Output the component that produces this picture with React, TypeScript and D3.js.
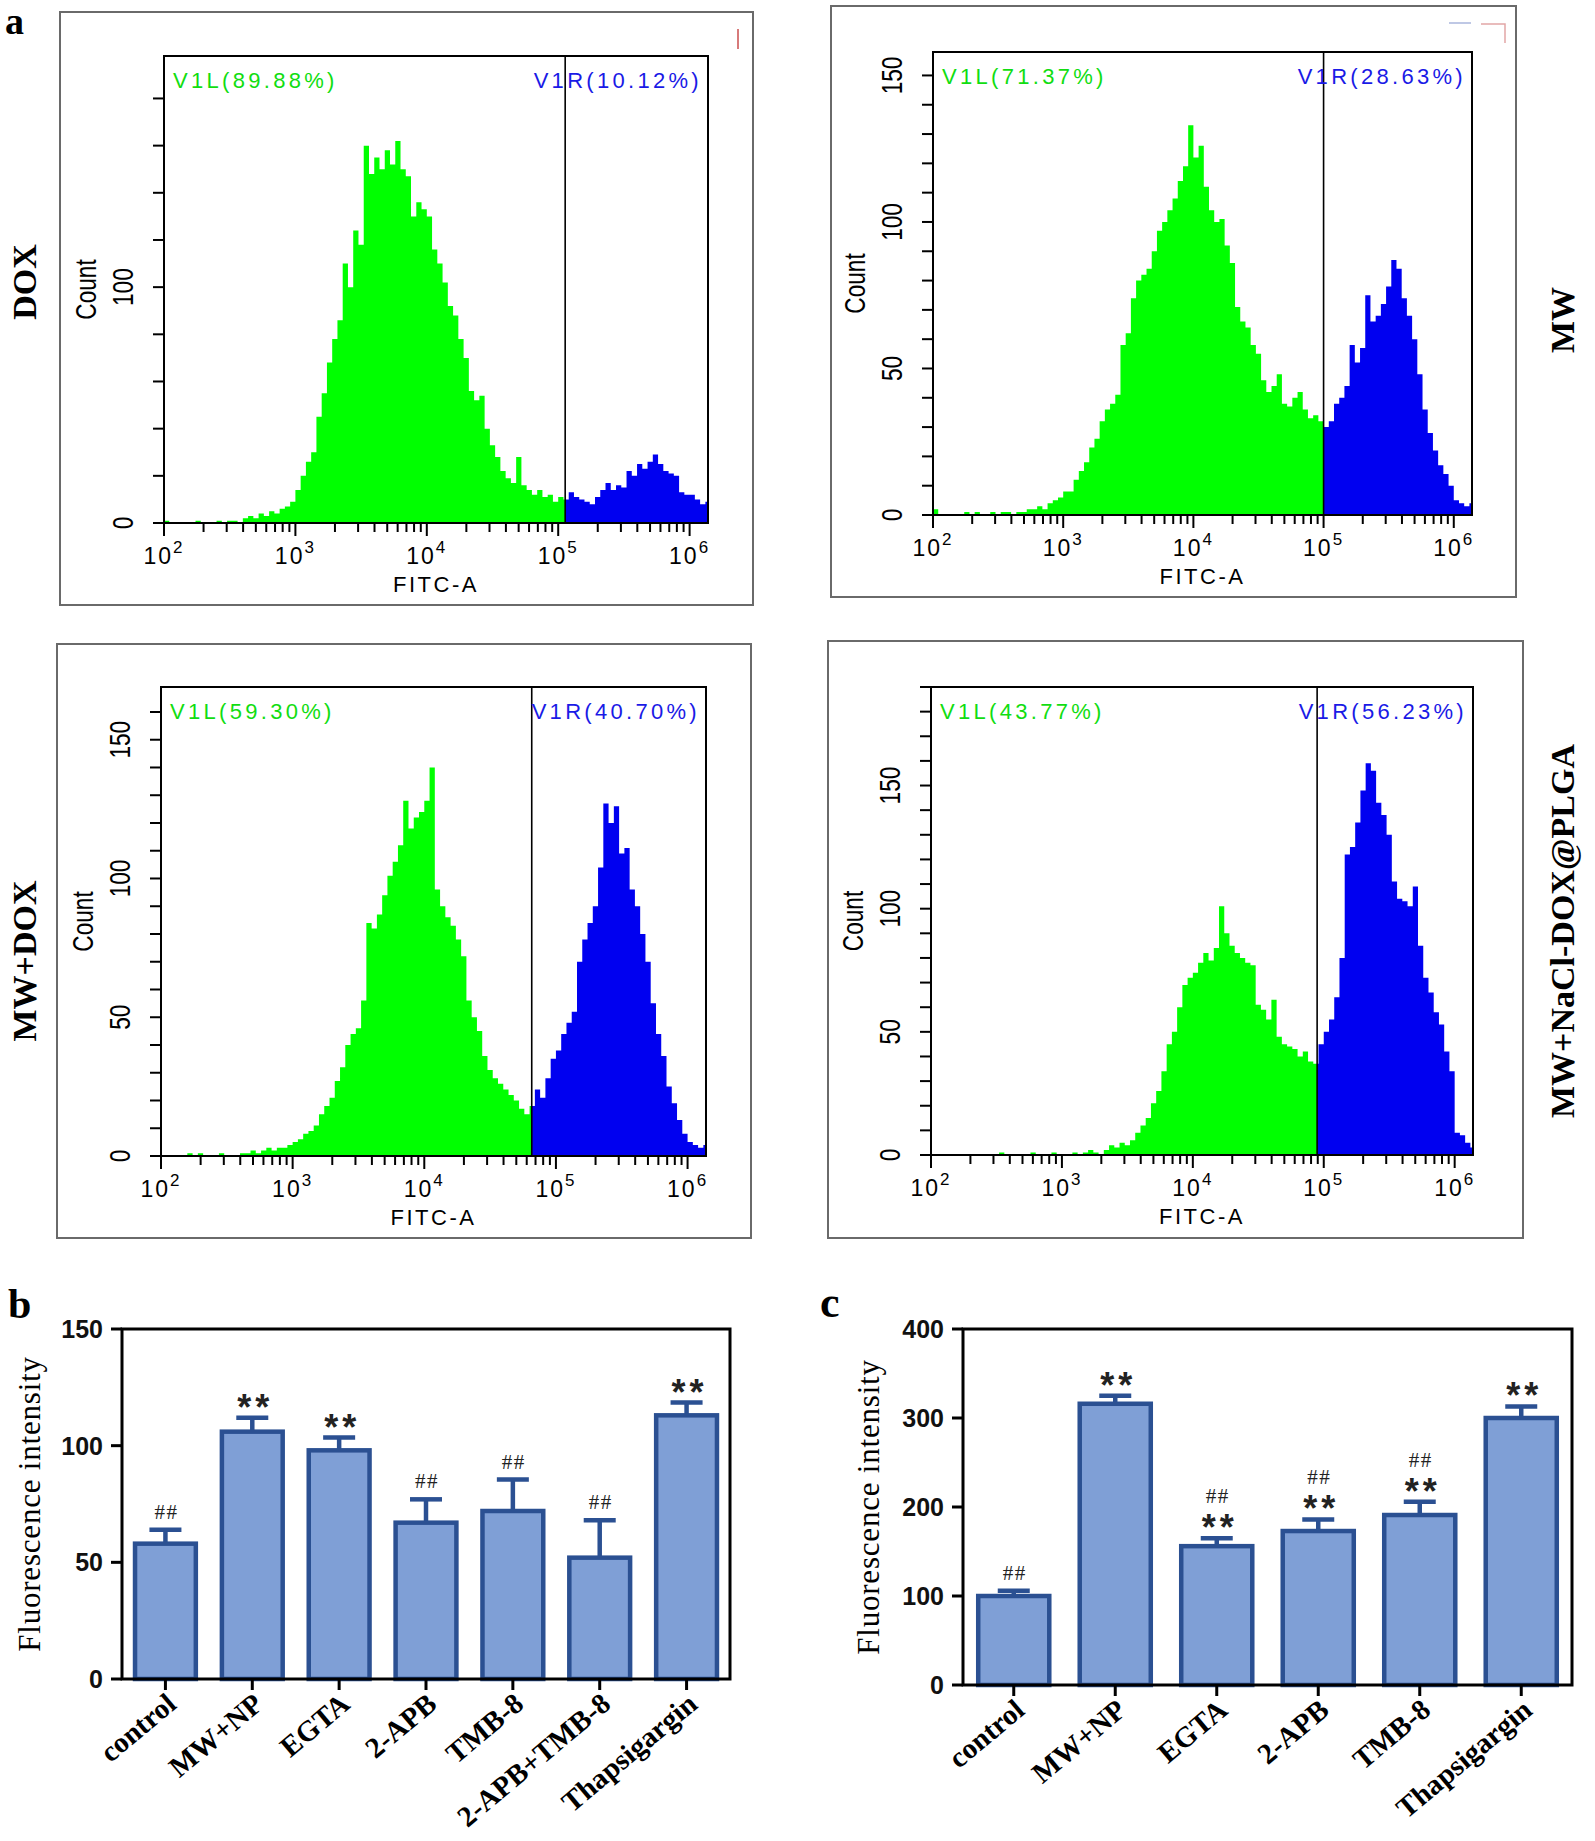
import React, { useEffect, useRef } from 'react';
import * as d3 from 'd3';

// FITC-A histograms: counts per bin, bins are 0.04 decade wide starting at 10^2
const binStart = 2;
const binStep = 0.04;

const doxCounts = [
  1, 0, 0, 0, 0, 0, 1, 0, 0, 0,
  1, 0, 1, 1, 0, 2, 3, 2, 4, 3,
  5, 4, 6, 7, 9, 14, 20, 26, 30, 45,
  55, 68, 78, 86, 110, 100, 124, 118, 160, 148,
  155, 150, 158, 152, 162, 150, 147, 130, 136, 133,
  130, 116, 110, 102, 92, 88, 78, 70, 56, 52,
  54, 40, 33, 28, 22, 19, 17, 28, 16, 14,
  12, 14, 11, 12, 9, 11, 10, 13, 11, 10,
  9, 8, 11, 14, 17, 14, 16, 15, 22, 20,
  25, 23, 26, 29, 25, 22, 21, 20, 13, 12,
  12, 10, 8, 9
];

const mwCounts = [
  2, 0, 0, 0, 0, 0, 1, 0, 1, 0,
  0, 1, 0, 1, 1, 0, 1, 1, 2, 2,
  3, 2, 4, 5, 6, 8, 8, 12, 15, 18,
  23, 26, 32, 36, 38, 41, 58, 62, 74, 80,
  82, 84, 90, 97, 100, 104, 108, 114, 119, 133,
  122, 126, 112, 104, 100, 101, 92, 86, 71, 66,
  64, 58, 55, 46, 42, 44, 48, 38, 37, 40,
  42, 36, 33, 34, 32, 30, 32, 38, 40, 44,
  58, 52, 57, 75, 66, 68, 72, 78, 87, 84,
  74, 68, 60, 48, 36, 28, 22, 17, 14, 10,
  5, 4, 3, 4
];

const mwDoxCounts = [
  0, 0, 0, 0, 0, 1, 0, 1, 0, 0,
  0, 1, 0, 0, 0, 1, 1, 2, 1, 2,
  3, 2, 3, 3, 4, 5, 6, 8, 9, 11,
  15, 18, 21, 27, 32, 40, 44, 46, 56, 84,
  82, 87, 94, 101, 106, 112, 128, 118, 122, 124,
  128, 140, 96, 90, 86, 83, 78, 72, 56, 50,
  45, 36, 31, 28, 26, 24, 22, 20, 17, 15,
  18, 24, 21, 28, 35, 38, 44, 48, 52, 70,
  78, 84, 90, 104, 127, 120, 126, 109, 111, 96,
  90, 80, 70, 55, 44, 36, 25, 19, 13, 8,
  5, 4, 3, 4
];

const naclCounts = [
  0, 0, 0, 0, 0, 0, 0, 0, 0, 0,
  0, 0, 0, 1, 0, 0, 0, 0, 0, 1,
  0, 0, 0, 1, 0, 0, 0, 1, 0, 1,
  2, 1, 0, 2, 4, 3, 5, 4, 6, 9,
  12, 15, 21, 26, 34, 45, 50, 60, 69, 72,
  74, 78, 82, 79, 84, 101, 90, 85, 82, 80,
  78, 77, 61, 59, 55, 63, 48, 45, 44, 43,
  40, 42, 38, 37, 45, 50, 55, 64, 80, 122,
  125, 135, 148, 159, 156, 143, 138, 130, 111, 104,
  103, 101, 109, 85, 72, 66, 58, 53, 42, 34,
  9, 8, 5, 3
];

const sampleNames = ['DOX', 'MW', 'MW+DOX', 'MW+NaCl-DOX@PLGA'];
const leftPercent = ['89.88%', '71.37%', '59.30%', '43.77%'];
const rightPercent = ['10.12%', '28.63%', '40.70%', '56.23%'];
const gates = [113000, 100000, 65500, 89000];
const countMax = [198, 158, 169, 190];
const countTickStep = [20, 10, 10, 10];
const countLabelStep = [100, 50, 50, 50];
const decades = [2, 3, 4, 5, 6];
const fitcMax = 10 ** 6.14;

// panel b
const groupsB = ['control', 'MW+NP', 'EGTA', '2-APB', 'TMB-8', '2-APB+TMB-8', 'Thapsigargin'];
const meansB = [58, 106, 98, 67, 72, 52, 113];
const errorsB = [6, 6, 5.5, 10, 13.5, 16, 5.5];
const marksB = [['##'], ['**'], ['**'], ['##'], ['##'], ['##'], ['**']];
const ticksB = [0, 50, 100, 150];

// panel c
const groupsC = ['control', 'MW+NP', 'EGTA', '2-APB', 'TMB-8', 'Thapsigargin'];
const meansC = [100, 316, 156, 173, 191, 300];
const errorsC = [6, 9, 9, 13, 15, 13];
const marksC = [['##'], ['**'], ['**', '##'], ['**', '##'], ['**', '##'], ['**']];
const ticksC = [0, 100, 200, 300, 400];

const histPanels = [
  { counts: doxCounts, box: [60, 12, 753, 605], plot: [164, 56, 708, 523], nameX: 24, nameY: 282 },
  { counts: mwCounts, box: [831, 6, 1516, 597], plot: [933, 52, 1472, 515], nameX: 1562, nameY: 320 },
  { counts: mwDoxCounts, box: [57, 644, 751, 1238], plot: [161, 687, 706, 1156], nameX: 24, nameY: 961 },
  { counts: naclCounts, box: [828, 641, 1523, 1238], plot: [931, 687, 1473, 1155], nameX: 1562, nameY: 931 }
];

const sans = "'Liberation Sans', Arial, Helvetica, sans-serif";
const serif = "'Liberation Serif', 'Times New Roman', Times, serif";

function App() {
  const svgRef = useRef<SVGSVGElement>(null);

  useEffect(() => {
    const svg = d3.select(svgRef.current);
    svg.selectAll('*').remove();
    const defs = svg.append('defs');

    // panel letters
    const letters = [['a', 5, 34, 38], ['b', 8, 1318, 42], ['c', 820, 1317, 44]];
    letters.forEach(([t, lx, ly, fs]) => {
      svg.append('text').attr('x', lx).attr('y', ly)
        .style('font-family', serif).style('font-weight', 'bold').style('font-size', fs + 'px')
        .text(t as string);
    });

    // flow cytometry histograms
    histPanels.forEach((p, i) => {
      const [bx0, by0, bx1, by1] = p.box;
      const [px0, py0, px1, py1] = p.plot;
      const g = svg.append('g');

      g.append('rect')
        .attr('x', bx0).attr('y', by0).attr('width', bx1 - bx0).attr('height', by1 - by0)
        .attr('fill', 'none').attr('stroke', '#6a6a6a').attr('stroke-width', 2);

      const x = d3.scaleLog().domain([100, fitcMax]).range([px0, px1]);
      const y = d3.scaleLinear().domain([0, countMax[i]]).range([py1, py0]);
      const gx = x(gates[i]);

      defs.append('clipPath').attr('id', 'gl' + i).append('rect')
        .attr('x', px0).attr('y', py0).attr('width', gx - px0).attr('height', py1 - py0);
      defs.append('clipPath').attr('id', 'gr' + i).append('rect')
        .attr('x', gx).attr('y', py0).attr('width', px1 - gx).attr('height', py1 - py0);

      const bins = p.counts.map((c, k) => ({ v: 10 ** (binStart + k * binStep), c }));
      bins.push({ v: 10 ** (binStart + p.counts.length * binStep), c: 0 });
      const area = d3.area<any>()
        .x(d => x(d.v))
        .y0(y(0))
        .y1(d => y(d.c))
        .curve(d3.curveStepAfter);

      g.append('path').datum(bins).attr('d', area).attr('fill', '#00ff00').attr('clip-path', 'url(#gl' + i + ')');
      g.append('path').datum(bins).attr('d', area).attr('fill', '#0000f0').attr('clip-path', 'url(#gr' + i + ')');

      // plot frame and gate
      g.append('rect')
        .attr('x', px0).attr('y', py0).attr('width', px1 - px0).attr('height', py1 - py0)
        .attr('fill', 'none').attr('stroke', '#000').attr('stroke-width', 2);
      g.append('line')
        .attr('x1', gx).attr('x2', gx).attr('y1', py0).attr('y2', py1)
        .attr('stroke', '#000').attr('stroke-width', 1.6);

      // y axis ticks
      d3.range(0, countMax[i] + 0.001, countTickStep[i]).forEach(v => {
        g.append('line')
          .attr('x1', px0 - 11).attr('x2', px0).attr('y1', y(v)).attr('y2', y(v))
          .attr('stroke', '#000').attr('stroke-width', 2);
        if (v % countLabelStep[i] === 0) {
          g.append('text')
            .attr('transform', `translate(${px0 - 41},${y(v)}) rotate(-90) scale(0.78,1)`)
            .attr('text-anchor', 'middle').attr('dominant-baseline', 'central')
            .style('font-family', sans).style('font-size', '29px')
            .text(String(v));
        }
      });
      g.append('text')
        .attr('transform', `translate(${px0 - 78},${(py0 + py1) / 2}) rotate(-90) scale(0.78,1)`)
        .attr('text-anchor', 'middle').attr('dominant-baseline', 'central')
        .style('font-family', sans).style('font-size', '29px')
        .text('Count');

      // x axis log ticks
      decades.forEach(d => {
        for (let k = 1; k <= 9; k++) {
          const v = k * 10 ** d;
          if (v > fitcMax) break;
          g.append('line')
            .attr('x1', x(v)).attr('x2', x(v)).attr('y1', py1).attr('y2', py1 + (k === 1 ? 13 : 9))
            .attr('stroke', '#000').attr('stroke-width', 2);
        }
        const t = g.append('text')
          .attr('x', x(10 ** d)).attr('y', py1 + 41)
          .attr('text-anchor', 'middle')
          .style('font-family', sans).style('font-size', '23px').style('letter-spacing', '2px');
        t.append('tspan').text('10');
        t.append('tspan').attr('dy', -11).style('font-size', '17px').text(String(d));
      });
      g.append('text')
        .attr('x', (px0 + px1) / 2).attr('y', py1 + 69)
        .attr('text-anchor', 'middle')
        .style('font-family', sans).style('font-size', '22px').style('letter-spacing', '2.5px')
        .text('FITC-A');

      // gate labels
      g.append('text')
        .attr('x', px0 + 9).attr('y', py0 + 32)
        .attr('fill', '#11dd11')
        .style('font-family', sans).style('font-size', '22px').style('letter-spacing', '3.3px')
        .text('V1L(' + leftPercent[i] + ')');
      g.append('text')
        .attr('x', px1 - 6).attr('y', py0 + 32)
        .attr('text-anchor', 'end')
        .attr('fill', '#1a1ae6')
        .style('font-family', sans).style('font-size', '22px').style('letter-spacing', '3.3px')
        .text('V1R(' + rightPercent[i] + ')');

      // sample name
      g.append('text')
        .attr('transform', `translate(${p.nameX},${p.nameY}) rotate(-90)`)
        .attr('text-anchor', 'middle').attr('dominant-baseline', 'central')
        .style('font-family', serif).style('font-weight', 'bold').style('font-size', '34px')
        .text(sampleNames[i]);
    });

    // small marks left on the original scans
    svg.append('line').attr('x1', 738).attr('x2', 738).attr('y1', 29).attr('y2', 49)
      .attr('stroke', '#d77a7a').attr('stroke-width', 2);
    svg.append('line').attr('x1', 1449).attr('x2', 1471).attr('y1', 23).attr('y2', 23)
      .attr('stroke', '#aab6dc').attr('stroke-width', 1.5);
    svg.append('path').attr('d', 'M1481,24H1505V43')
      .attr('fill', 'none').attr('stroke', '#e2a6a6').attr('stroke-width', 1.5);

    // bar charts
    const drawBars = (cfg: any) => {
      const [x0, y0, x1, y1] = cfg.plot;
      const g = svg.append('g');
      const x = d3.scaleBand().domain(cfg.groups).range([x0, x1]).paddingInner(0.3).paddingOuter(0.15);
      const y = d3.scaleLinear().domain([0, cfg.max]).range([y1, y0]);
      const bw = x.bandwidth();

      cfg.groups.forEach((name: string, k: number) => {
        const cx = (x(name) as number) + bw / 2;
        const top = y(cfg.means[k]);
        const capY = y(cfg.means[k] + cfg.errors[k]);
        g.append('line').attr('x1', cx).attr('x2', cx).attr('y1', top).attr('y2', capY)
          .attr('stroke', '#2b5092').attr('stroke-width', 4.5);
        g.append('line').attr('x1', cx - 16).attr('x2', cx + 16).attr('y1', capY).attr('y2', capY)
          .attr('stroke', '#2b5092').attr('stroke-width', 4.5);
        g.append('rect')
          .attr('x', x(name) as number).attr('y', top).attr('width', bw).attr('height', y(0) - top)
          .attr('fill', '#7f9fd6').attr('stroke', '#2b5092').attr('stroke-width', 4.5);

        cfg.marks[k].forEach((m: string, j: number) => {
          const center = capY - (j === 0 ? 18 : 42);
          if (m === '**') {
            g.append('text').attr('x', cx + 3).attr('y', center + 20)
              .attr('text-anchor', 'middle').attr('fill', '#222')
              .style('font-family', sans).style('font-weight', 'bold').style('font-size', '36px')
              .style('letter-spacing', '4px')
              .text(m);
          } else {
            g.append('text').attr('x', cx + 1).attr('y', center + 7)
              .attr('text-anchor', 'middle').attr('fill', '#222')
              .style('font-family', serif).style('font-size', '21px').style('letter-spacing', '1.5px')
              .text(m);
          }
        });

        g.append('line').attr('x1', cx).attr('x2', cx).attr('y1', y1).attr('y2', y1 + 11)
          .attr('stroke', '#000').attr('stroke-width', 3);
        g.append('text')
          .attr('transform', `translate(${cx + 6},${y1 + 20}) rotate(-40)`)
          .attr('text-anchor', 'end').attr('dy', '0.35em')
          .style('font-family', serif).style('font-weight', 'bold').style('font-size', '29px')
          .text(name);
      });

      g.append('rect')
        .attr('x', x0).attr('y', y0).attr('width', x1 - x0).attr('height', y1 - y0)
        .attr('fill', 'none').attr('stroke', '#000').attr('stroke-width', 3);

      cfg.ticks.forEach((v: number) => {
        g.append('line').attr('x1', x0 - 11).attr('x2', x0).attr('y1', y(v)).attr('y2', y(v))
          .attr('stroke', '#000').attr('stroke-width', 3);
        g.append('text').attr('x', x0 - 19).attr('y', y(v)).attr('dy', '0.36em')
          .attr('text-anchor', 'end').attr('fill', '#111')
          .style('font-family', sans).style('font-weight', 'bold').style('font-size', '25px')
          .text(String(v));
      });

      g.append('text')
        .attr('transform', `translate(${cfg.labelX},${(y0 + y1) / 2}) rotate(-90)`)
        .attr('text-anchor', 'middle').attr('dominant-baseline', 'central')
        .style('font-family', serif).style('font-size', '31px').style('letter-spacing', '0.8px')
        .text('Fluorescence intensity');
    };

    drawBars({ groups: groupsB, means: meansB, errors: errorsB, marks: marksB, ticks: ticksB, max: 150,
      plot: [122, 1329, 730, 1679], labelX: 29 });
    drawBars({ groups: groupsC, means: meansC, errors: errorsC, marks: marksC, ticks: ticksC, max: 400,
      plot: [963, 1329, 1572, 1685], labelX: 868 });
  }, []);

  return (
    <svg ref={svgRef} width={1595} height={1841}
      style={{ position: 'absolute', left: 0, top: 0, background: '#fff' }} />
  );
}

export default App;
